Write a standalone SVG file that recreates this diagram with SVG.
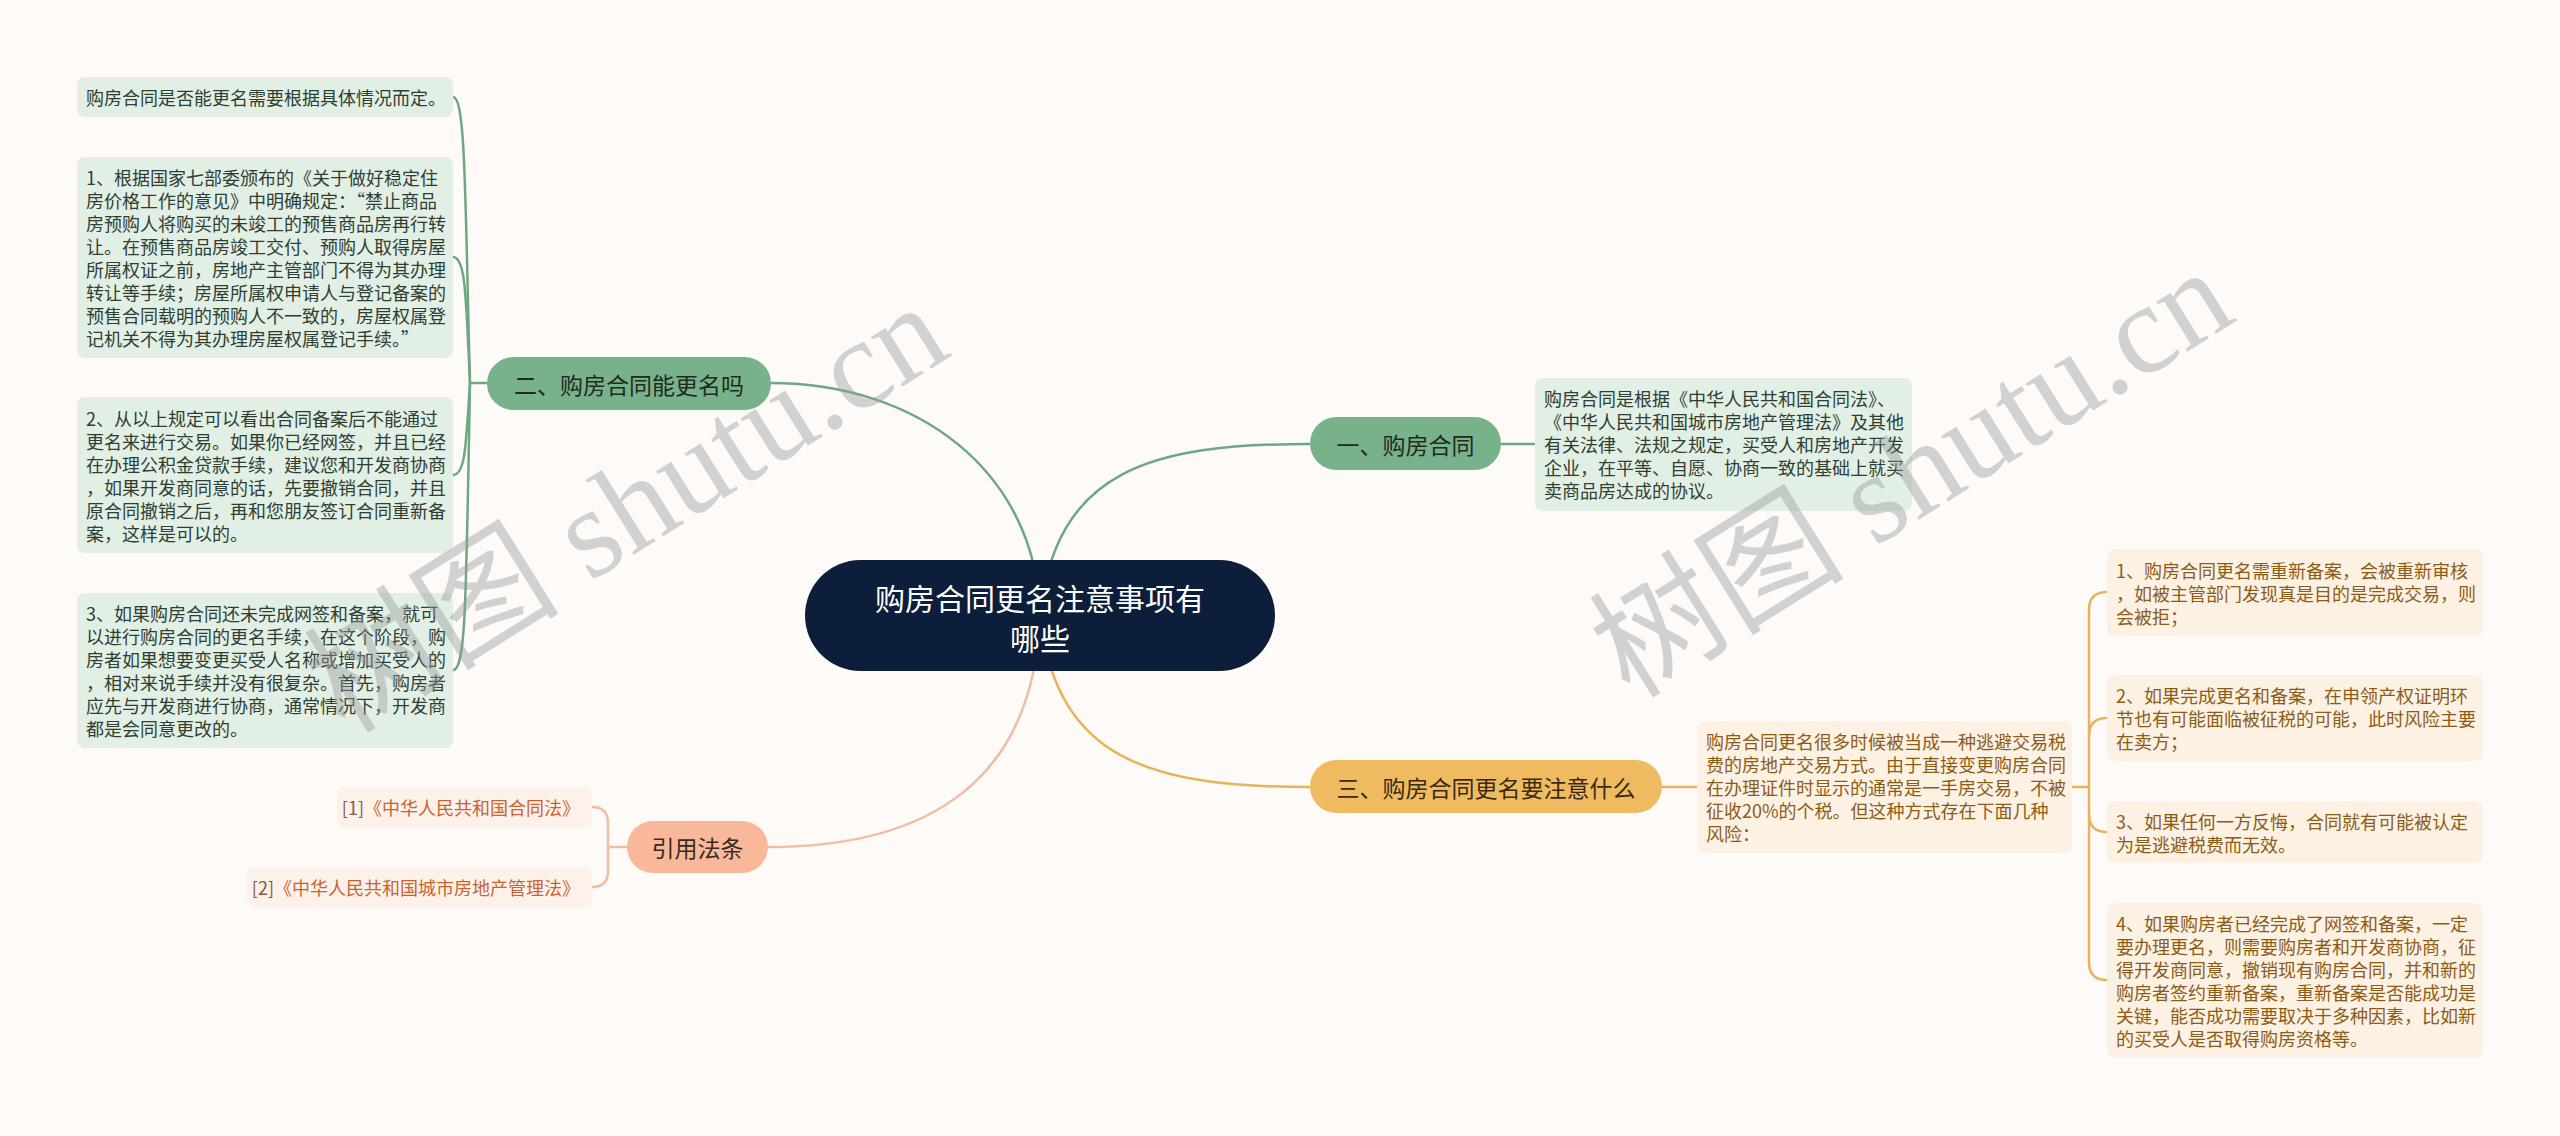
<svg xmlns="http://www.w3.org/2000/svg" width="2560" height="1136" viewBox="0 0 2560 1136">
<style>
text{font-family:"Noto Sans CJK SC","Noto Sans",sans-serif;dominant-baseline:central}
.leaf{font-size:18px}
.g-box{fill:#e2efe5}
.g-txt{fill:#2f3e33}
.y-box{fill:#fcf1e3}
.y-txt{fill:#8c5c16}
.r-box{fill:#fdf1ea}
.r-txt{fill:#c8642f;font-size:18px}
.branch{font-size:23px;fill:#1e2a22;text-anchor:middle}
.c-g{fill:none;stroke:#6ea882;stroke-width:2.5}
.c-y{fill:none;stroke:#e6b45a;stroke-width:2.5}
.c-r{fill:none;stroke:#efbda3;stroke-width:2.5}
.wm{font-family:"Liberation Serif","Noto Sans CJK SC",serif;font-size:128px;fill:#9a9a9a;opacity:0.42;dominant-baseline:alphabetic}
</style>
<rect x="0" y="0" width="2560" height="1136" fill="#fdfaf7"/>

<g id="connectors">
  <path class="c-g" d="M1040 615 C1036 470 916 383 771 383"/>
  <path class="c-g" d="M1040 615 C1056 470 1150 444 1310 444"/>
  <path class="c-y" d="M1040 615 C1056 760 1150 787 1310 787"/>
  <path class="c-r" d="M1040 615 C1034 780 930 847 768 847"/>
  <path class="c-g" d="M1501 444 L1535 444"/>
  <path class="c-g" d="M487 383 L470 383"/>
  <path class="c-g" d="M470 383 C465 200 466 97 453 97"/>
  <path class="c-g" d="M470 383 C466 300 466 257 453 257"/>
  <path class="c-g" d="M470 383 C466 440 466 475 453 475"/>
  <path class="c-g" d="M470 383 C466 600 466 670 453 670"/>
  <path class="c-y" d="M1662 787 L1697 787"/>
  <path class="c-y" d="M2072 787 L2089 787"/>
  <path class="c-y" d="M2107 592 Q2089 592 2089 610 L2089 962 Q2089 980 2107 980"/>
  <path class="c-y" d="M2089 736 Q2089 718 2107 718"/>
  <path class="c-y" d="M2089 814 Q2089 832 2107 832"/>
  <path class="c-r" d="M627 847 L608 847"/>
  <path class="c-r" d="M592 807 Q608 807 608 823 L608 871 Q608 887 592 887"/>
</g>

<g id="root">
  <rect x="805" y="560" width="470" height="111" rx="55.5" fill="#0c1e39"/>
  <text x="1040" y="597" font-size="30" fill="#ffffff" text-anchor="middle">购房合同更名注意事项有</text>
  <text x="1040" y="637" font-size="30" fill="#ffffff" text-anchor="middle">哪些</text>
</g>

<g id="n-yi">
  <rect x="1310" y="417" width="191" height="53" rx="26.5" fill="#78b28a"/>
  <text class="branch" x="1405.5" y="443.5">一、购房合同</text>
</g>
<g id="n-yi-1">
  <rect class="g-box" x="1535" y="378" width="377" height="133" rx="8"/>
  <text class="leaf g-txt" x="1544">
    <tspan x="1544" y="398">购房合同是根据《中华人民共和国合同法》、</tspan>
    <tspan x="1544" y="421">《中华人民共和国城市房地产管理法》及其他</tspan>
    <tspan x="1544" y="444">有关法律、法规之规定，买受人和房地产开发</tspan>
    <tspan x="1544" y="467">企业，在平等、自愿、协商一致的基础上就买</tspan>
    <tspan x="1544" y="490">卖商品房达成的协议。</tspan>
  </text>
</g>

<g id="n-er">
  <rect x="487" y="357" width="284" height="53" rx="26.5" fill="#78b28a"/>
  <text class="branch" x="629" y="383.5">二、购房合同能更名吗</text>
</g>
<g id="n-er-1">
  <rect class="g-box" x="77" y="77" width="376" height="40" rx="8"/>
  <text class="leaf g-txt" x="86" y="97">购房合同是否能更名需要根据具体情况而定。</text>
</g>
<g id="n-er-2">
  <rect class="g-box" x="77" y="157" width="376" height="201" rx="8"/>
  <text class="leaf g-txt">
    <tspan x="86" y="177">1、根据国家七部委颁布的《关于做好稳定住</tspan>
    <tspan x="86" y="200">房价格工作的意见》中明确规定：“禁止商品</tspan>
    <tspan x="86" y="223">房预购人将购买的未竣工的预售商品房再行转</tspan>
    <tspan x="86" y="246">让。在预售商品房竣工交付、预购人取得房屋</tspan>
    <tspan x="86" y="269">所属权证之前，房地产主管部门不得为其办理</tspan>
    <tspan x="86" y="292">转让等手续；房屋所属权申请人与登记备案的</tspan>
    <tspan x="86" y="315">预售合同载明的预购人不一致的，房屋权属登</tspan>
    <tspan x="86" y="338">记机关不得为其办理房屋权属登记手续。”</tspan>
  </text>
</g>
<g id="n-er-3">
  <rect class="g-box" x="77" y="397" width="376" height="156" rx="8"/>
  <text class="leaf g-txt">
    <tspan x="86" y="417.5">2、从以上规定可以看出合同备案后不能通过</tspan>
    <tspan x="86" y="440.5">更名来进行交易。如果你已经网签，并且已经</tspan>
    <tspan x="86" y="463.5">在办理公积金贷款手续，建议您和开发商协商</tspan>
    <tspan x="86" y="486.5">，如果开发商同意的话，先要撤销合同，并且</tspan>
    <tspan x="86" y="509.5">原合同撤销之后，再和您朋友签订合同重新备</tspan>
    <tspan x="86" y="532.5">案，这样是可以的。</tspan>
  </text>
</g>
<g id="n-er-4">
  <rect class="g-box" x="77" y="593" width="376" height="155" rx="8"/>
  <text class="leaf g-txt">
    <tspan x="86" y="613">3、如果购房合同还未完成网签和备案，就可</tspan>
    <tspan x="86" y="636">以进行购房合同的更名手续，在这个阶段，购</tspan>
    <tspan x="86" y="659">房者如果想要变更买受人名称或增加买受人的</tspan>
    <tspan x="86" y="682">，相对来说手续并没有很复杂。首先，购房者</tspan>
    <tspan x="86" y="705">应先与开发商进行协商，通常情况下，开发商</tspan>
    <tspan x="86" y="728">都是会同意更改的。</tspan>
  </text>
</g>

<g id="n-san">
  <rect x="1310" y="760" width="352" height="53" rx="26.5" fill="#f0bb60"/>
  <text class="branch" x="1486" y="786.5" style="fill:#3a2a10">三、购房合同更名要注意什么</text>
</g>
<g id="n-san-0">
  <rect class="y-box" x="1697" y="721" width="375" height="132" rx="8"/>
  <text class="leaf y-txt">
    <tspan x="1706" y="741">购房合同更名很多时候被当成一种逃避交易税</tspan>
    <tspan x="1706" y="764">费的房地产交易方式。由于直接变更购房合同</tspan>
    <tspan x="1706" y="787">在办理证件时显示的通常是一手房交易，不被</tspan>
    <tspan x="1706" y="810">征收20%的个税。但这种方式存在下面几种</tspan>
    <tspan x="1706" y="833">风险：</tspan>
  </text>
</g>
<g id="n-san-1">
  <rect class="y-box" x="2107" y="549" width="376" height="87" rx="8"/>
  <text class="leaf y-txt">
    <tspan x="2116" y="569.5">1、购房合同更名需重新备案，会被重新审核</tspan>
    <tspan x="2116" y="592.5">，如被主管部门发现真是目的是完成交易，则</tspan>
    <tspan x="2116" y="615.5">会被拒；</tspan>
  </text>
</g>
<g id="n-san-2">
  <rect class="y-box" x="2107" y="675" width="376" height="86" rx="8"/>
  <text class="leaf y-txt">
    <tspan x="2116" y="695">2、如果完成更名和备案，在申领产权证明环</tspan>
    <tspan x="2116" y="718">节也有可能面临被征税的可能，此时风险主要</tspan>
    <tspan x="2116" y="741">在卖方；</tspan>
  </text>
</g>
<g id="n-san-3">
  <rect class="y-box" x="2107" y="801" width="376" height="62" rx="8"/>
  <text class="leaf y-txt">
    <tspan x="2116" y="820.5">3、如果任何一方反悔，合同就有可能被认定</tspan>
    <tspan x="2116" y="843.5">为是逃避税费而无效。</tspan>
  </text>
</g>
<g id="n-san-4">
  <rect class="y-box" x="2107" y="903" width="376" height="155" rx="8"/>
  <text class="leaf y-txt">
    <tspan x="2116" y="923">4、如果购房者已经完成了网签和备案，一定</tspan>
    <tspan x="2116" y="946">要办理更名，则需要购房者和开发商协商，征</tspan>
    <tspan x="2116" y="969">得开发商同意，撤销现有购房合同，并和新的</tspan>
    <tspan x="2116" y="992">购房者签约重新备案，重新备案是否能成功是</tspan>
    <tspan x="2116" y="1015">关键，能否成功需要取决于多种因素，比如新</tspan>
    <tspan x="2116" y="1038">的买受人是否取得购房资格等。</tspan>
  </text>
</g>

<g id="n-ref">
  <rect x="627" y="821" width="141" height="52" rx="26" fill="#f8b899"/>
  <text class="branch" x="697.5" y="847" style="fill:#3a2a22">引用法条</text>
</g>
<g id="n-ref-1">
  <rect class="r-box" x="337" y="787" width="255" height="40" rx="8"/>
  <text class="r-txt" x="580" y="807" text-anchor="end"><tspan fill="#8a5a44">[1]</tspan>《中华人民共和国合同法》</text>
</g>
<g id="n-ref-2">
  <rect class="r-box" x="247" y="867" width="345" height="40" rx="8"/>
  <text class="r-txt" x="580" y="887" text-anchor="end"><tspan fill="#8a5a44">[2]</tspan>《中华人民共和国城市房地产管理法》</text>
</g>

<g id="watermarks">
  <text class="wm" transform="translate(345 735) rotate(-32)">树图 shutu.cn</text>
  <text class="wm" transform="translate(1630 700) rotate(-32)">树图 shutu.cn</text>
</g>
</svg>
